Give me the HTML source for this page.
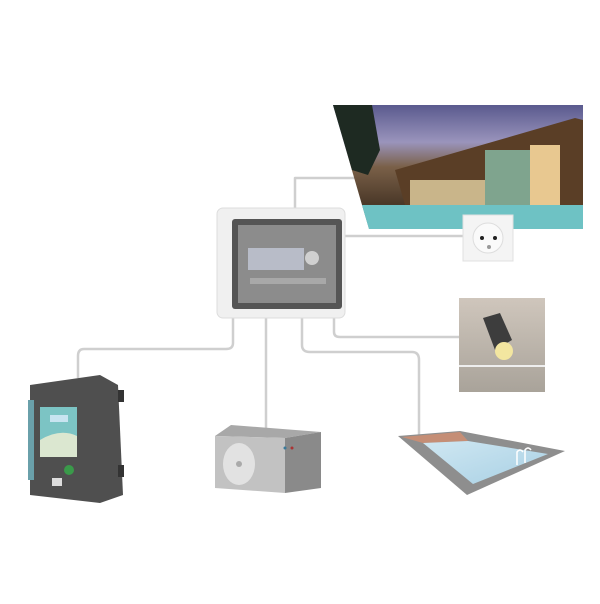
<!DOCTYPE html>
<html><head><style>html,body{margin:0;padding:0;background:#fff}svg{display:block}</style></head>
<body>
<svg width="600" height="604" viewBox="0 0 600 604" xmlns="http://www.w3.org/2000/svg">
<defs>
<linearGradient id="sky" x1="0" y1="0" x2="0" y2="1">
<stop offset="0" stop-color="#5a5a8e"/><stop offset="0.3" stop-color="#9a94bc"/><stop offset="0.5" stop-color="#7a6048"/><stop offset="0.8" stop-color="#4a3828"/><stop offset="1" stop-color="#6fb6b8"/></linearGradient>
<linearGradient id="lt" x1="0" y1="0" x2="0" y2="1"><stop offset="0" stop-color="#cfc6bc"/><stop offset="1" stop-color="#a9a39a"/></linearGradient>
<linearGradient id="wat" x1="0" y1="0" x2="1" y2="1"><stop offset="0" stop-color="#cfe7f2"/><stop offset="1" stop-color="#a8d0e4"/></linearGradient>
</defs>
<g fill="none" stroke="#cfcfcf" stroke-width="2.5" stroke-linejoin="round">
<path d="M295,210 V178 H555"/>
<path d="M345,236 H465"/>
<path d="M334,308 V332 Q334,337 340,337 H460"/>
<path d="M302,314 V345 Q302,352 310,352 H412 Q419,352 419,360 V436"/>
<path d="M266,318 V430"/>
<path d="M233,316 V343 Q233,349 226,349 H84 Q78,349 78,356 V378"/>
</g>
<polygon points="333,105 583,105 583,229 369,229" fill="url(#sky)"/>
<polygon points="395,170 575,118 583,120 583,205 405,205" fill="#5a3e26"/>
<rect x="485" y="150" width="45" height="55" fill="#7fa48e"/>
<rect x="530" y="145" width="30" height="60" fill="#e8c890"/>
<rect x="410" y="180" width="75" height="25" fill="#c9b58a"/>
<polygon points="362,205 583,205 583,229 369,229" fill="#6ec2c4"/>
<polygon points="333,105 372,105 380,150 368,175 352,170" fill="#1e2a22"/>
<rect x="463" y="215" width="50" height="46" fill="#f4f4f4" stroke="#e0e0e0"/>
<circle cx="488" cy="238" r="15" fill="#fafafa" stroke="#ddd"/>
<circle cx="482" cy="238" r="2" fill="#222"/><circle cx="495" cy="238" r="2" fill="#222"/><circle cx="489" cy="247" r="2" fill="#999"/>
<rect x="217" y="208" width="128" height="110" rx="6" fill="#f0f0f0" stroke="#ddd"/>
<rect x="232" y="219" width="110" height="90" rx="3" fill="#555"/>
<rect x="238" y="225" width="98" height="78" fill="#8c8c8c"/>
<rect x="248" y="248" width="56" height="22" fill="#b8bcc8"/>
<circle cx="312" cy="258" r="7" fill="#d0d0d0"/>
<rect x="250" y="278" width="76" height="6" fill="#a8a8a8"/>
<rect x="459" y="298" width="86" height="94" fill="url(#lt)"/>
<line x1="459" y1="366" x2="545" y2="366" stroke="#eee" stroke-width="2"/>
<polygon points="483,318 500,313 512,340 495,350" fill="#3d3d3d"/>
<circle cx="504" cy="351" r="9" fill="#f3e6a0"/>
<path d="M30,385 L100,375 L118,385 L123,495 L100,503 L30,495 Z" fill="#4f4f4f"/>
<rect x="118" y="390" width="6" height="12" fill="#333"/><rect x="118" y="465" width="6" height="12" fill="#333"/>
<rect x="28" y="400" width="6" height="80" fill="#6aa0aa"/>
<rect x="40" y="407" width="37" height="50" fill="#7cc4c4"/>
<rect x="50" y="415" width="18" height="7" fill="#c8e4f0"/>
<path d="M40,440 Q60,428 77,436 V457 H40 Z" fill="#dbe7d0"/>
<circle cx="69" cy="470" r="5" fill="#3a9a4a"/>
<rect x="52" y="478" width="10" height="8" fill="#ddd"/>
<polygon points="231,425 321,432 285,438 215,436" fill="#a8a8a8"/>
<polygon points="285,438 321,432 321,488 285,493" fill="#8a8a8a"/>
<polygon points="215,436 285,438 285,493 215,488" fill="#c2c2c2"/>
<ellipse cx="239" cy="464" rx="16" ry="21" fill="#e2e2e2"/>
<circle cx="239" cy="464" r="3" fill="#aaa"/>
<circle cx="285" cy="448" r="1.5" fill="#3a7a9a"/><circle cx="292" cy="448" r="1.5" fill="#a33"/>
<polygon points="398,436 460,431 565,451 467,495" fill="#8e8e8e"/>
<polygon points="402,437 460,432 468,441 423,443" fill="#c58e76"/>
<polygon points="423,443 468,441 548,454 473,484" fill="url(#wat)"/>
<path d="M517,465 V452 Q520,448 523,452 M525,463 V450 Q528,446 531,450" stroke="#fff" stroke-width="1.5" fill="none"/>
</svg>
</body></html>
